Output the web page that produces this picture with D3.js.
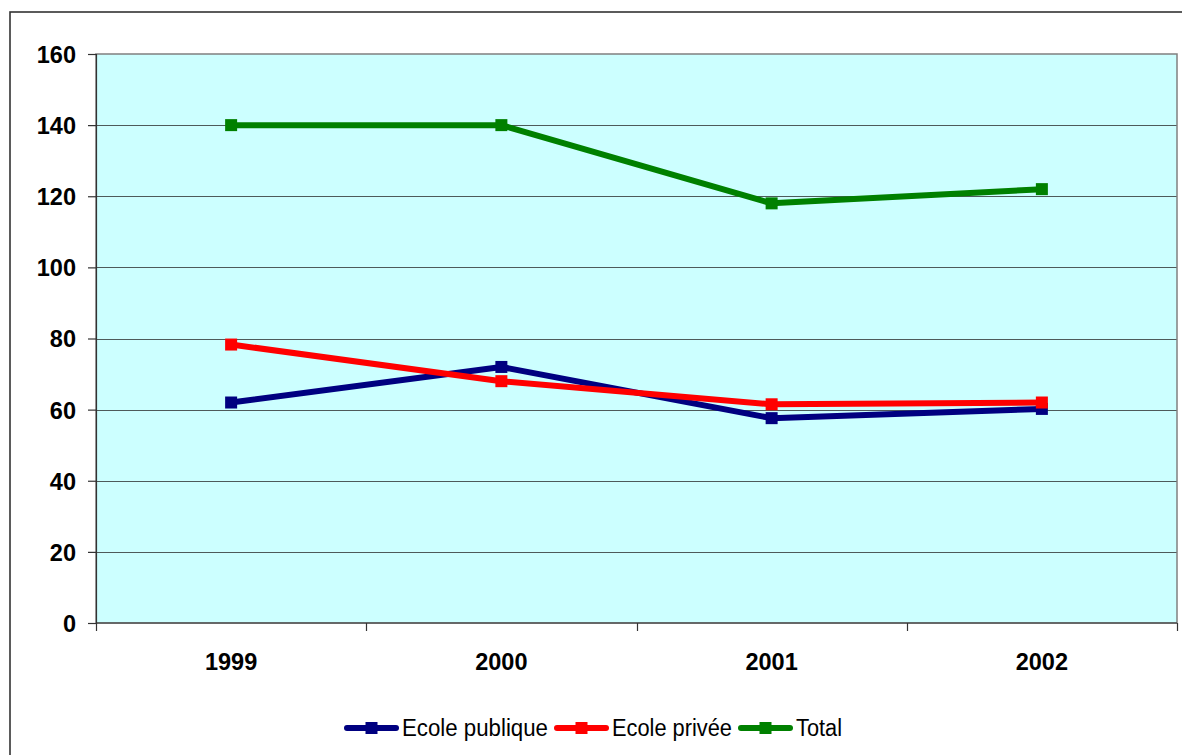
<!DOCTYPE html>
<html>
<head>
<meta charset="utf-8">
<script src="https://cdn.jsdelivr.net/npm/d3@7"></script>
<style>
  html, body { margin: 0; padding: 0; background: #fff; }
  svg { display: block; font-family: Arial, "Liberation Sans", sans-serif; }
</style>
</head>
<body>
<svg id="chart" width="1182" height="755"></svg>
<script>
// Years on the category axis
const years = ["1999", "2000", "2001", "2002"];
// Series values per year
const ecolePublique = [62, 72, 57.6, 60.2];
const ecolePrivee = [78.3, 68, 61.5, 62];
const total = [140, 140, 118, 122];
// Value-axis ticks
const yTicks = [0, 20, 40, 60, 80, 100, 120, 140, 160];

const series = [
  { name: "Ecole publique", values: ecolePublique, color: "#000080" },
  { name: "Ecole privée", values: ecolePrivee, color: "#FF0000" },
  { name: "Total", values: total, color: "#008000" }
];

const svg = d3.select("#chart");
const plot = { left: 96, top: 54, right: 1177, bottom: 623 };

// Outer chart frame (runs off the right and bottom edges)
svg.append("rect")
  .attr("x", 10).attr("y", 12)
  .attr("width", 1200).attr("height", 800)
  .attr("fill", "#fff").attr("stroke", "#333").attr("stroke-width", 1.6);

const x = d3.scaleBand().domain(years).range([plot.left, plot.right]).padding(0);
const y = d3.scaleLinear().domain([0, 160]).range([plot.bottom, plot.top]);

// Plot area background
svg.append("rect")
  .attr("x", plot.left).attr("y", plot.top)
  .attr("width", plot.right - plot.left).attr("height", plot.bottom - plot.top)
  .attr("fill", "#CCFFFF");

// Horizontal gridlines
svg.append("g").selectAll("line")
  .data(yTicks.filter(d => d > 0 && d < 160))
  .join("line")
  .attr("x1", plot.left).attr("x2", plot.right)
  .attr("y1", d => Math.round(y(d)) + 0.5).attr("y2", d => Math.round(y(d)) + 0.5)
  .attr("stroke", "#4d5a5a").attr("stroke-width", 1.2);

// Plot border
svg.append("rect")
  .attr("x", plot.left).attr("y", plot.top)
  .attr("width", plot.right - plot.left).attr("height", plot.bottom - plot.top)
  .attr("fill", "none").attr("stroke", "#808080").attr("stroke-width", 1.5);

// Y axis
const yAxis = svg.append("g")
  .attr("transform", `translate(${plot.left},0)`)
  .call(d3.axisLeft(y).tickValues(yTicks).tickSize(8).tickPadding(12).tickFormat(d3.format("d")));
yAxis.select(".domain").attr("stroke", "#333").attr("stroke-width", 1.2);
yAxis.selectAll(".tick line").attr("stroke", "#333").attr("stroke-width", 1.2);
yAxis.selectAll(".tick text")
  .attr("font-family", "Arial, 'Liberation Sans', sans-serif")
  .attr("font-size", 23.5).attr("font-weight", "bold").attr("fill", "#000")
  .attr("dy", "0.36em");

// X axis: ticks sit on category boundaries
const boundaries = d3.range(years.length + 1).map(i => plot.left + i * x.bandwidth());
const xAxis = svg.append("g");
xAxis.append("line")
  .attr("x1", plot.left).attr("x2", plot.right)
  .attr("y1", plot.bottom).attr("y2", plot.bottom)
  .attr("stroke", "#333").attr("stroke-width", 1.2);
xAxis.selectAll("line.tk")
  .data(boundaries)
  .join("line").attr("class", "tk")
  .attr("x1", d => Math.round(d) + 0.5).attr("x2", d => Math.round(d) + 0.5)
  .attr("y1", plot.bottom).attr("y2", plot.bottom + 8)
  .attr("stroke", "#333").attr("stroke-width", 1.2);
xAxis.selectAll("text")
  .data(years)
  .join("text")
  .attr("x", d => x(d) + x.bandwidth() / 2)
  .attr("y", 670)
  .attr("text-anchor", "middle")
  .attr("font-size", 23.5).attr("font-weight", "bold").attr("fill", "#000")
  .text(d => d);

// Lines and square markers
const line = d3.line()
  .x((d, i) => x(years[i]) + x.bandwidth() / 2)
  .y(d => y(d));

const g = svg.append("g");
series.forEach(s => {
  g.append("path")
    .datum(s.values)
    .attr("d", line)
    .attr("fill", "none")
    .attr("stroke", s.color)
    .attr("stroke-width", 6)
    .attr("stroke-linejoin", "round");
  g.selectAll(null)
    .data(s.values)
    .join("rect")
    .attr("x", (d, i) => x(years[i]) + x.bandwidth() / 2 - 6)
    .attr("y", d => y(d) - 6)
    .attr("width", 12).attr("height", 12)
    .attr("fill", s.color);
});

// Legend
const legendItems = [
  { x: 347, textX: 402, textLen: 146 },
  { x: 557, textX: 612, textLen: 120 },
  { x: 741, textX: 796, textLen: 46 }
];
const legendY = 728;
const legend = svg.append("g");
series.forEach((s, i) => {
  const L = legendItems[i];
  legend.append("line")
    .attr("x1", L.x).attr("x2", L.x + 49)
    .attr("y1", legendY).attr("y2", legendY)
    .attr("stroke", s.color).attr("stroke-width", 6).attr("stroke-linecap", "round");
  legend.append("rect")
    .attr("x", L.x + 24.5 - 6).attr("y", legendY - 6)
    .attr("width", 12).attr("height", 12)
    .attr("fill", s.color);
  legend.append("text")
    .attr("x", L.textX).attr("y", legendY + 8)
    .attr("font-size", 23).attr("fill", "#000")
    .attr("textLength", L.textLen).attr("lengthAdjust", "spacingAndGlyphs")
    .text(s.name);
});
</script>
</body>
</html>
